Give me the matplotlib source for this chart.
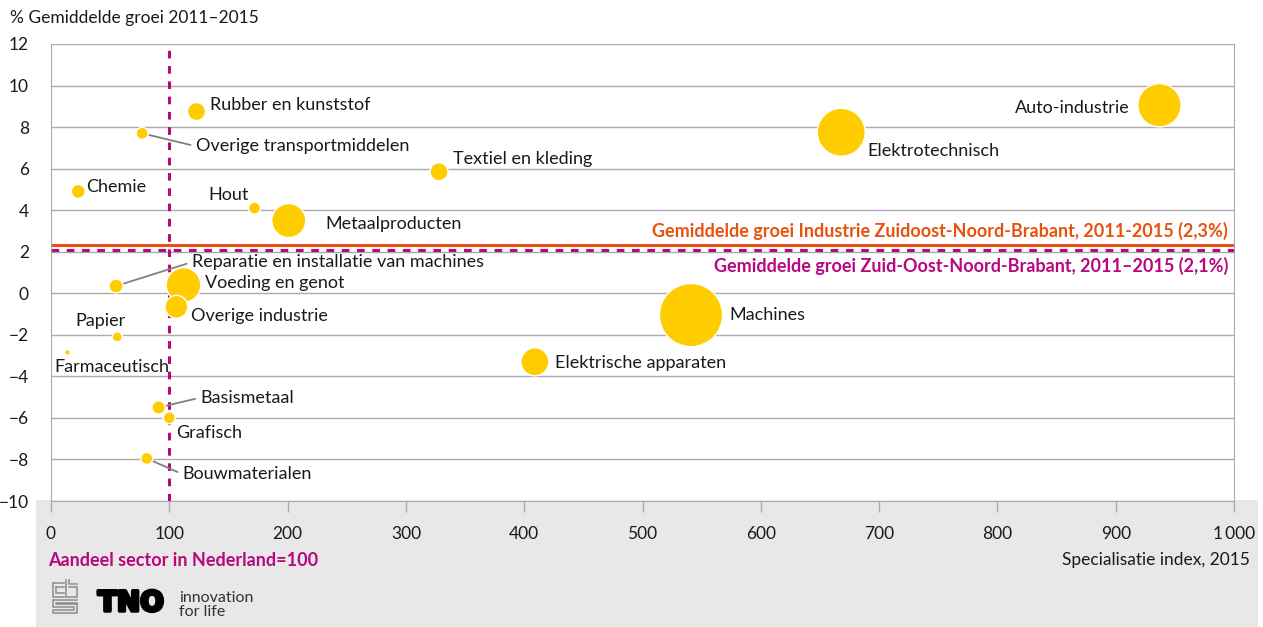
import matplotlib.pyplot as plt
import matplotlib.patheffects as pe
from matplotlib.patches import Rectangle
from matplotlib.lines import Line2D

plt.rcParams['font.family'] = ['Lato', 'DejaVu Sans']

# sectoren: specialisatie-index 2015, gemiddelde groei 2011-2015, omvang (bolgrootte)
sectoren = [
    'Auto-industrie', 'Elektrotechnisch', 'Machines', 'Elektrische apparaten',
    'Textiel en kleding', 'Metaalproducten', 'Hout', 'Rubber en kunststof',
    'Overige transportmiddelen', 'Chemie', 'Reparatie en installatie van machines',
    'Voeding en genot', 'Overige industrie', 'Papier', 'Farmaceutisch',
    'Basismetaal', 'Grafisch', 'Bouwmaterialen',
]
specialisatie = [937, 668, 541, 409, 328, 201, 172, 123, 77, 23, 55, 112, 106, 56, 14, 91, 100, 81]
groei = [9.05, 7.75, -1.05, -3.3, 5.85, 3.5, 4.1, 8.75, 7.7, 4.9, 0.35, 0.4, -0.65, -2.1, -2.85, -5.5, -6.0, -7.95]
omvang = [470, 576, 1000, 196, 81, 289, 36, 81, 36, 49, 49, 300, 130, 25, 8, 45, 36, 36]

groei_industrie = 2.3
groei_regio = 2.1
nederland = 100

# label offsets (pixels) and alignment, plus whether a leader line is drawn
labels = {
    'Auto-industrie': (-30, -3, 'right', False),
    'Elektrotechnisch': (26, -19, 'left', False),
    'Machines': (38, 0, 'left', False),
    'Elektrische apparaten': (20, -1, 'left', False),
    'Textiel en kleding': (14, 13, 'left', False),
    'Metaalproducten': (37, -3, 'left', False),
    'Hout': (-6, 13, 'right', False),
    'Rubber en kunststof': (13, 7, 'left', False),
    'Overige transportmiddelen': (54, -13, 'left', True),
    'Chemie': (8, 4, 'left', False),
    'Reparatie en installatie van machines': (76, 24, 'left', True),
    'Voeding en genot': (22, 2, 'left', False),
    'Overige industrie': (15, -9, 'left', False),
    'Papier': (-17, 16, 'center', False),
    'Farmaceutisch': (-13, -15, 'left', False),
    'Basismetaal': (42, 10, 'left', True),
    'Grafisch': (7, -15, 'left', False),
    'Bouwmaterialen': (36, -16, 'left', True),
}

geel = '#FFCC00'
oranje = '#E8520E'
magenta = '#B8077F'
grijs = '#ABABAB'
tekst = '#1A1A1A'

fig = plt.figure(figsize=(12.63, 6.27), dpi=100)
fig.patches.append(Rectangle((36 / 1263, 0), 1222 / 1263, 127 / 627,
                             transform=fig.transFigure, facecolor='#E8E8E8',
                             edgecolor='none', zorder=-10))

ax = fig.add_axes([51 / 1263, 126 / 627, 1183 / 1263, 457 / 627])
ax.set_xlim(0, 1000)
ax.set_ylim(-10, 12)

ax.set_yticks(range(-10, 13, 2))
ax.set_yticklabels([str(v).replace('-', '\u2212') for v in range(-10, 13, 2)])
ax.set_xticks(range(0, 1001, 100))
ax.set_xticklabels([str(v) if v < 1000 else '1\u2009000' for v in range(0, 1001, 100)])
ax.yaxis.grid(True, color=grijs, linewidth=1)
ax.set_axisbelow(True)
ax.tick_params(axis='y', length=0, pad=16, labelsize=12.5, labelcolor=tekst)
ax.tick_params(axis='x', length=8, width=1, color=grijs, pad=10, labelsize=12.5, labelcolor=tekst)
ax.spines['top'].set_visible(False)
for side in ['left', 'bottom', 'right']:
    ax.spines[side].set_color(grijs)

ax.axvline(nederland, color=magenta, linestyle=(0, (2.5, 2.5)), linewidth=2.2, zorder=1)
ax.axhline(groei_industrie, color=oranje, linewidth=2.2, zorder=1)
ax.axhline(groei_regio, color=magenta, linestyle=(0, (2.5, 2.5)), linewidth=2.2, zorder=1)

ax.scatter(specialisatie, groei, s=[v * 2.07 for v in omvang], color=geel,
           edgecolor='white', linewidth=1, zorder=3)

for naam, x, y, r in zip(sectoren, specialisatie, groei, omvang):
    dx, dy, ha, lijn = labels[naam]
    props = None
    if lijn:
        props = dict(arrowstyle='-', color='#808080', linewidth=1.3,
                     shrinkA=2, shrinkB=r ** 0.5 * 0.72 + 1, relpos=(0, 0.5))
    ax.annotate(naam, (x, y), xytext=(dx, dy), textcoords='offset pixels',
                ha=ha, va='center', fontsize=13, color=tekst,
                arrowprops=props, zorder=4)

ax.text(0.995, groei_industrie + 0.25,
        'Gemiddelde groei Industrie Zuidoost-Noord-Brabant, 2011-2015 (2,3%)',
        transform=ax.get_yaxis_transform(), ha='right', va='bottom',
        fontsize=13, fontweight='bold', color=oranje)
ax.text(0.995, groei_regio - 0.35,
        'Gemiddelde groei Zuid-Oost-Noord-Brabant, 2011\u20132015 (2,1%)',
        transform=ax.get_yaxis_transform(), ha='right', va='top',
        fontsize=13, fontweight='bold', color=magenta)

fig.text(10 / 1263, 1 - 18 / 627, '% Gemiddelde groei 2011\u20132015',
         ha='left', va='center', fontsize=12.5, color=tekst)
fig.text(48 / 1263, 1 - 560 / 627, 'Aandeel sector in Nederland=100',
         ha='left', va='center', fontsize=13, fontweight='bold', color=magenta)
fig.text(1250 / 1263, 1 - 560 / 627, 'Specialisatie index, 2015',
         ha='right', va='center', fontsize=12.5, color=tekst)


# cbs logo, drawn as simple outlined blocks
def px(x, y):
    return x / 1263, 1 - y / 627


logo = [
    [(53, 583), (53, 597), (64, 597)], [(53, 583), (64, 583)], [(56, 587), (64, 587)],
    [(56, 587), (56, 593), (64, 593)],
    [(66, 580), (66, 597), (77, 597), (77, 587), (69, 587)], [(69, 580), (69, 584), (77, 584)],
    [(53, 600), (77, 600)],
    [(53, 600), (53, 607), (74, 607), (74, 610), (53, 610), (53, 613), (77, 613),
     (77, 604), (56, 604), (56, 603), (77, 603)],
]
for pts in logo:
    xs, ys = zip(*[px(*p) for p in pts])
    fig.lines.append(Line2D(xs, ys, transform=fig.transFigure, color='#8C8C8C', linewidth=1.1))

tno = fig.text(98 / 1263, 1 - 603 / 627, 'TNO', ha='left', va='center', fontsize=20,
               fontweight='bold', color='black', family='DejaVu Sans')
tno.set_path_effects([pe.withStroke(linewidth=2.5, foreground='black')])
fig.text(179 / 1263, 1 - 598 / 627, 'innovation', ha='left', va='center', fontsize=11.5, color='#333333')
fig.text(179 / 1263, 1 - 612 / 627, 'for life', ha='left', va='center', fontsize=11.5, color='#333333')

fig.savefig('out.png', dpi=100)
